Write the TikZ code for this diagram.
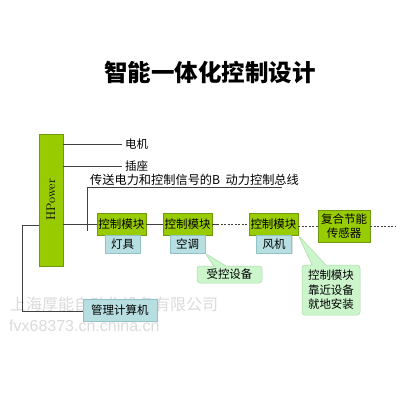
\documentclass[tikz,border=0pt]{standalone}
\usepackage{fontspec}
\newfontfamily\cjk{Noto Sans CJK SC}
\newfontfamily\wmsans{Liberation Sans}
\usetikzlibrary{shapes.callouts,shadows}
\definecolor{modgreen}{HTML}{99CC00}
\definecolor{modborder}{HTML}{6E9A10}
\definecolor{lblue}{HTML}{B7DEE0}
\definecolor{lblueb}{HTML}{8FC3C6}
\definecolor{cgreen}{HTML}{CCF5CC}
\definecolor{cgreenb}{HTML}{A8DDA8}
\definecolor{linegray}{HTML}{404040}
\tikzset{
  modbox/.style={draw=modborder, fill=modgreen, line width=0.6pt, inner sep=1pt,
    font=\cjk\fontsize{11.5}{14}\selectfont, align=center,
    drop shadow={shadow xshift=1.2pt, shadow yshift=-1.2pt, opacity=0.3}},
  lblbox/.style={draw=lblueb, fill=lblue, line width=0.5pt, inner sep=1pt,
    font=\cjk\fontsize{11.5}{13}\selectfont, minimum width=35pt, minimum height=18pt,
    drop shadow={shadow xshift=1.2pt, shadow yshift=-1.2pt, opacity=0.25}},
  callbox/.style={rectangle callout, draw=cgreenb, fill=cgreen, line width=0.5pt,
    rounded corners=3pt, inner sep=1pt, align=center,
    font=\cjk\fontsize{11.5}{14.5}\selectfont},
  conn/.style={draw=linegray, line width=0.9pt},
  dconn/.style={draw=linegray, line width=0.7pt, dash pattern=on 2pt off 1.5pt},
  plain/.style={font=\cjk\fontsize{11.5}{13}\selectfont, inner sep=0pt},
  wm/.style={text=black!14, inner sep=0pt}
}
\begin{document}
\begin{tikzpicture}[x=1pt,y=-1pt]
\useasboundingbox (0,0) rectangle (400,400);
\fill[white] (0,0) rectangle (400,400);

% watermark
\node[wm, anchor=west, font=\cjk\fontsize{16}{18}\selectfont] (wm1) at (10,304) {上海厚能自动化设备有限公司};
\node[wm, anchor=west, font=\wmsans\fontsize{16}{18}\selectfont] (wm2) at (9,326) {fvx68373.cn.china.cn};

% title
\node[font=\cjk\bfseries\fontsize{23.5}{26}\selectfont, inner sep=0pt] (title) at (210,73) {智能一体化控制设计};

% HPower
\node[draw=modborder, fill=modgreen, line width=0.6pt, minimum width=24pt, minimum height=132pt,
  inner sep=0pt, drop shadow={shadow xshift=1.2pt, shadow yshift=-1.2pt, opacity=0.3}] (hp) at (51,200) {};
\node[rotate=90, font=\fontsize{12.5}{14}\selectfont, inner sep=0pt] (hpt) at (hp.center) {HPower};

% motor & socket
\node[plain, anchor=west] (motor) at (125,144) {电机};
\node[plain, anchor=west] (socket) at (125,166) {插座};
\draw[conn] (hp.east |- motor.west) -- ([xshift=-3pt]motor.west);
\draw[conn] (hp.east |- socket.west) -- ([xshift=-3pt]socket.west);

% bus
\coordinate (bl) at (87,187);
\coordinate (br) at (282,187);
\coordinate (bv) at (87,231);
\node[plain, anchor=south west, font=\cjk\fontsize{12.2}{14}\selectfont] (bus) at (90,185.5) {传送电力和控制信号的B\ \ 动力控制总线};
\draw[conn] (bv) -- (bl) -- (br);

% modules
\node[modbox, minimum width=49pt, minimum height=22pt] (c1) at (121.5,224) {控制模块};
\node[modbox, minimum width=49pt, minimum height=22pt] (c2) at (187.5,224) {控制模块};
\node[modbox, minimum width=49pt, minimum height=22pt] (c3) at (273.5,224) {控制模块};
\node[modbox, minimum width=52pt, minimum height=32pt] (sen) at (344,226) {复合节能\\传感器};
\coordinate (send) at (395,226);

\draw[conn] (hp.east |- c1.west) -- (c1.west);
\draw[conn] (c1.east) -- (c2.east -| c2.west);
\draw[conn] (c2.east) -- ([xshift=5pt]c2.east);
\draw[dconn] ([xshift=5pt]c2.east) -- (c3.west);
\draw[dconn] (c3.east |- sen.west) -- (sen.west);
\draw[dconn] (sen.east) -- (send);

% labels
\node[lblbox] (l1) at (122.5,244) {灯具};
\node[lblbox] (l2) at (187.5,244) {空调};
\node[lblbox] (l3) at (274,244) {风机};

% callouts
\node[callbox, minimum width=65pt, minimum height=17pt,
  callout absolute pointer={(l2.south east)}, callout pointer width=12pt] (k1) at (229.5,274.5) {受控设备};
\node[callbox, minimum width=58pt, minimum height=50pt,
  callout absolute pointer={(c3.south east)}, callout pointer width=14pt] (k2) at (331,290) {控制模块\\靠近设备\\就地安装};

% management computer
\node[lblbox, minimum width=74pt, minimum height=22pt] (pc) at (120,310) {管理计算机};
\coordinate (lt) at (22,225);
\coordinate (lb) at (22,311);
\draw[conn] (hp.west |- lt) -- (lt) -- (lb) -- (pc.west |- lb);
\end{tikzpicture}
\end{document}
